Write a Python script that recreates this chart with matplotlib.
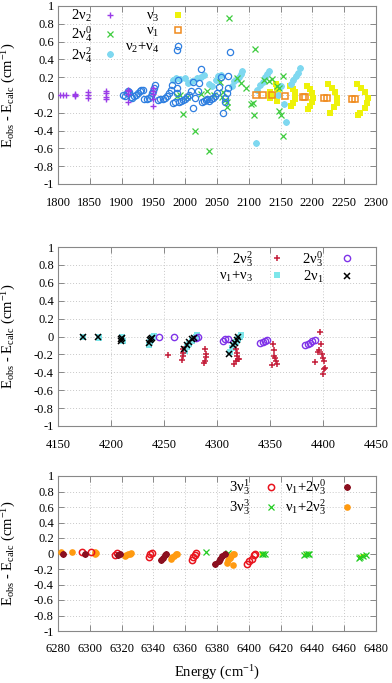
import matplotlib
matplotlib.use("Agg")
import matplotlib.pyplot as plt
from matplotlib.ticker import MultipleLocator, FuncFormatter

plt.rcParams['font.family'] = ['Liberation Serif', 'DejaVu Serif']
plt.rcParams['mathtext.fontset'] = 'custom'
plt.rcParams['mathtext.rm'] = 'Liberation Serif'
plt.rcParams['mathtext.it'] = 'Liberation Serif:italic'
plt.rcParams['axes.unicode_minus'] = False

# ---- panel 1: 1800-2300 cm-1 ----
e_2v2 = [1803, 1808, 1813, 1826, 1826, 1826, 1847, 1847, 1847, 1875, 1875, 1875, 1875,
         1910, 1910, 1910, 1910, 1950, 1950, 1950, 1950, 1950]
d_2v2 = [0, 0, 0, 0.01, 0, -0.01, 0.03, 0, -0.03, 0.05, 0.02, -0.02, -0.05,
         0.06, 0.04, 0.01, -0.08, 0.08, 0.05, 0.01, -0.05, -0.12]

e_2v4_0 = [1987, 1992, 1997, 2003, 2015, 2025, 2034, 2038, 2045, 2055, 2058, 2060, 2063, 2065, 2066,
           2069, 2081, 2088, 2096, 2104, 2107, 2108, 2110, 2124, 2132, 2136, 2144, 2148, 2150,
           2153, 2154, 2148]
d_2v4_0 = [-0.01, 0.0, -0.21, -0.02, -0.41, 0.01, 0.04, -0.63, 0.0, 0.15, -0.02, 0.03, -0.06, -0.08, -0.13,
           0.87, 0.19, 0.13, 0.08, -0.1, -0.09, -0.23, 0.52, 0.17, 0.16, 0.18, 0.1, -0.18, -0.22,
           -0.46, 0.21, 0.08]

e_2v4_2 = [1981, 1986, 1992, 1999, 2004, 2011, 2018, 2025, 2030, 2037, 2042, 2048, 2052, 2057,
           2074, 2077, 2081, 2085, 2088, 2090, 2111, 2113, 2118, 2122, 2126, 2129, 2132,
           2146, 2150, 2156, 2158, 2166, 2170, 2174, 2178, 2181]
d_2v4_2 = [0.17, 0.19, 0.18, 0.19, 0.14, 0.16, 0.19, 0.2, 0.22, 0.12, 0.1, 0.17, 0.21, 0.22,
           0.1, 0.16, 0.18, 0.2, 0.24, 0.27, -0.54, 0.06, 0.11, 0.15, 0.2, 0.24, 0.27,
           0.0, 0.1, -0.1, -0.3, 0.12, 0.17, 0.21, 0.25, 0.3]

e_v3 = [2134, 2135, 2134,
        2143, 2145, 2146, 2146, 2145, 2144,
        2165, 2169, 2172, 2173, 2172, 2169, 2166,
        2191, 2196, 2200, 2201, 2200, 2197, 2193,
        2225, 2231, 2236, 2239, 2238, 2234, 2228,
        2270, 2277, 2283, 2287, 2286, 2282, 2275, 2271]
d_v3 = [0.03, 0.0, -0.03,
        0.12, 0.08, 0.04, 0.0, -0.04, -0.07,
        0.1, 0.07, 0.03, -0.01, -0.05, -0.09, -0.12,
        0.1, 0.07, 0.02, -0.03, -0.08, -0.12, -0.16,
        0.12, 0.08, 0.03, -0.03, -0.09, -0.14, -0.2,
        0.12, 0.08, 0.03, -0.03, -0.09, -0.15, -0.2, -0.22]

e_v1 = [2112, 2122, 2136, 2157, 2186, 2189, 2219, 2223, 2262, 2267]
d_v1 = [0.0, 0.0, 0.0, -0.01, -0.02, -0.02, -0.03, -0.03, -0.05, -0.04]

e_v2v4 = [1902, 1905, 1908, 1910, 1912, 1914, 1917, 1920, 1923, 1926, 1929, 1931, 1934,
          1936, 1940, 1943, 1946, 1948, 1950, 1951, 1953,
          1957, 1961, 1965, 1968, 1972, 1975, 1977, 1979,
          1981, 1984, 1987, 1987, 1989, 1990, 1994, 1997, 2000, 2003, 2006, 2009, 2012,
          2013, 2016, 2020, 2022, 2025, 2026, 2029, 2032, 2035, 2038, 2041, 2044, 2047, 2050,
          2053, 2056, 2060, 2062, 2063, 2065, 2067, 2068, 2071, 1987]
d_v2v4 = [0.0, -0.01, 0.02, 0.04, 0.03, -0.02, -0.03, -0.01, 0.0, 0.02, 0.05, 0.06, 0.06,
          -0.05, -0.04, -0.03, -0.01, 0.02, 0.05, 0.08, 0.11,
          -0.06, -0.05, -0.04, -0.03, -0.01, 0.02, 0.06, 0.11,
          -0.09, -0.08, 0.02, 0.08, 0.17, -0.08, -0.07, -0.06, -0.04, -0.02, 0.0, 0.05, 0.15,
          -0.15, -0.03, 0.05, 0.13, 0.29, -0.08, -0.07, -0.06, -0.05, -0.07, -0.05, -0.03, -0.01, 0.02,
          0.09, 0.2, -0.2, -0.08, -0.03, 0.02, 0.08, 0.21, 0.48, 0.51]

# ---- panel 2: 4150-4450 cm-1 ----
e_2v3_2 = [4254, 4268, 4268, 4268, 4267, 4289, 4290, 4290, 4289, 4288,
           4318, 4319, 4319, 4320, 4318, 4316, 4321,
           4353, 4354, 4354, 4355, 4356, 4357, 4352,
           4397, 4398, 4396, 4395, 4399, 4400, 4401, 4401, 4400, 4392, 4402]
d_2v3_2 = [-0.21, -0.14, -0.18, -0.22, -0.26, -0.14, -0.2, -0.23, -0.27, -0.3,
           -0.14, -0.18, -0.22, -0.25, -0.27, -0.31, -0.25,
           -0.08, -0.15, -0.22, -0.24, -0.27, -0.31, -0.32,
           0.05, -0.08, -0.15, -0.17, -0.2, -0.24, -0.27, -0.36, -0.42, -0.29, -0.35]

e_2v3_0 = [4245, 4259, 4280, 4282, 4306, 4308, 4310, 4341, 4343, 4345, 4347,
           4383, 4386, 4388, 4390, 4392]
d_2v3_0 = [0.0, -0.01, -0.02, -0.01, -0.05, -0.03, -0.03, -0.07, -0.06, -0.05, -0.04,
           -0.09, -0.08, -0.07, -0.05, -0.04]

e_v1v3 = [4174, 4174, 4189, 4189, 4210, 4210, 4211, 4236, 4237, 4238, 4240, 4241,
          4270, 4272, 4274, 4276, 4278, 4280, 4281, 4312, 4314, 4316, 4318, 4320, 4322, 4323]
d_v1v3 = [0.0, -0.01, 0.0, -0.02, 0.0, -0.03, -0.05, -0.09, -0.06, -0.04, -0.01, 0.01,
          -0.16, -0.12, -0.08, -0.05, -0.02, 0.0, 0.02, -0.17, -0.13, -0.09, -0.06, -0.03, 0.0, 0.02]

e_2v1 = [4174, 4188, 4209, 4210, 4209, 4236, 4237, 4238, 4239,
         4269, 4272, 4274, 4276, 4278, 4311, 4315, 4317, 4319, 4320]
d_2v1 = [0.0, -0.01, -0.03, -0.02, -0.05, -0.07, -0.04, -0.03, -0.02,
         -0.14, -0.1, -0.06, -0.03, -0.02, -0.19, -0.1, -0.07, -0.04, -0.01]

# ---- panel 3: 6280-6480 cm-1 ----
e_3v3_1 = [6295, 6301, 6316, 6317, 6337, 6338, 6339, 6364, 6365, 6366, 6367,
           6399, 6400, 6402, 6403, 6404]
d_3v3_1 = [0.02, 0.02, -0.02, 0.01, -0.05, -0.01, 0.01, -0.08, -0.05, -0.02, 0.01,
           -0.13, -0.1, -0.07, -0.02, 0.0]

e_3v3_3 = [6373, 6387, 6408, 6409, 6410, 6435, 6436, 6437, 6438, 6469, 6470, 6472, 6474]
d_3v3_3 = [0.02, 0.01, 0.0, 0.0, -0.01, -0.02, -0.01, -0.01, -0.01, -0.06, -0.05, -0.03, -0.02]

e_hidden = [6408, 6409, 6436, 6437, 6470, 6472]
d_hidden = [-0.01, 0.0, -0.02, -0.01, -0.05, -0.03]

e_v12v3_0 = [6283, 6297, 6318, 6319, 6345, 6346, 6347, 6348, 6379, 6381, 6382, 6383, 6385]
d_v12v3_0 = [-0.01, -0.01, -0.02, 0.0, -0.09, -0.06, -0.02, 0.0, -0.13, -0.1, -0.07, -0.03, 0.0]

e_v12v3_2 = [6282, 6289, 6303, 6304, 6303, 6322, 6323, 6324, 6325, 6326,
             6351, 6352, 6353, 6354, 6355, 6386, 6387, 6388, 6389, 6390, 6391, 6390]
d_v12v3_2 = [0.02, 0.02, -0.01, 0.01, 0.02, -0.03, -0.02, -0.01, 0.0, 0.01,
             -0.07, -0.05, -0.03, -0.01, 0.0, -0.12, -0.09, -0.06, -0.03, -0.01, 0.0, -0.15]

ylab = r'E$_{\rm obs}$ - E$_{\rm calc}$ (cm$^{-1}$)'
aster = (8, 2, 0)

fig = plt.figure(figsize=(3.92, 6.83), dpi=100)
W, H = 392.0, 683.0
AX_L, AX_R = 58, 376


def make_axes(top, bottom, xlim, xstep):
    ax = fig.add_axes([AX_L / W, 1 - bottom / H, (AX_R - AX_L) / W, (bottom - top) / H])
    ax.set_xlim(*xlim)
    ax.set_ylim(-1, 1)
    ax.xaxis.set_major_locator(MultipleLocator(xstep))
    ax.yaxis.set_major_locator(MultipleLocator(0.2))
    ax.yaxis.set_major_formatter(FuncFormatter(lambda v, p: '%g' % round(v, 1)))
    ax.grid(True, color='#c8c8c8', linestyle=(0, (1, 2)), linewidth=0.7)
    ax.set_axisbelow(True)
    ax.tick_params(direction='in', top=True, right=True, length=4, width=0.6,
                   color='#777777', labelsize=9)
    ax.tick_params(axis='x', pad=9)
    ax.tick_params(axis='y', pad=3)
    for s in ax.spines.values():
        s.set_color('#888888')
        s.set_linewidth(0.8)
    ax.set_ylabel(ylab, fontsize=10.5)
    ax.yaxis.set_label_coords(-0.125, 0.5)
    return ax


leg_kw = dict(ncol=2, frameon=False, markerfirst=False, fontsize=10.5, handlelength=0.9,
              borderpad=0.0, borderaxespad=0.0)

# panel 1
ax1 = make_axes(6, 184, (1800, 2300), 50)
h_v3, = ax1.plot(e_v3, d_v3, 's', color='#eef20a', ms=4.5, mew=0, zorder=2, label=r'$\mathrm{\nu}_3$')
h_2v4_2, = ax1.plot(e_2v4_2, d_2v4_2, ls='none', marker=aster, color='#7fd8f0', ms=4.5, mew=1.4,
                    zorder=3, label=r'2$\mathrm{\nu}_4^2$')
h_2v4_0, = ax1.plot(e_2v4_0, d_2v4_0, 'x', color='#3fcc3f', ms=4, mew=0.9, zorder=4,
                    label=r'2$\mathrm{\nu}_4^0$')
h_v2v4, = ax1.plot(e_v2v4, d_v2v4, 'o', mfc='none', mec='#2f7fe0', ms=4.5, mew=0.9, zorder=5,
                   label=r'$\mathrm{\nu}_2$+$\mathrm{\nu}_4$')
h_v1, = ax1.plot(e_v1, d_v1, 's', mfc='none', mec='#f08a1c', ms=4.2, mew=1.1, zorder=6,
                 label=r'$\mathrm{\nu}_1$')
h_2v2, = ax1.plot(e_2v2, d_2v2, '+', color='#9a3ce8', ms=4.5, mew=1.0, zorder=7,
                  label=r'2$\mathrm{\nu}_2$')
ax1.legend(handles=[h_2v2, h_2v4_0, h_2v4_2, h_v3, h_v1, h_v2v4], loc='upper left',
           bbox_to_anchor=(0.04, 0.99), handletextpad=0.8, columnspacing=0.6,
           labelspacing=0.05, **leg_kw)

# panel 2
ax2 = make_axes(247, 426, (4150, 4450), 50)
h_v1v3, = ax2.plot(e_v1v3, d_v1v3, 's', color='#7de6ea', ms=4.5, mew=0, zorder=2,
                   label=r'$\mathrm{\nu}_1$+$\mathrm{\nu}_3$')
h_2v3_2, = ax2.plot(e_2v3_2, d_2v3_2, '+', color='#c41e3a', ms=4.5, mew=1.1, zorder=3,
                    label=r'2$\mathrm{\nu}_3^2$')
h_2v3_0, = ax2.plot(e_2v3_0, d_2v3_0, 'o', mfc='none', mec='#7f33e8', ms=4.5, mew=1.0, zorder=4,
                    label=r'2$\mathrm{\nu}_3^0$')
h_2v1, = ax2.plot(e_2v1, d_2v1, 'x', color='black', ms=4, mew=1.1, zorder=5,
                  label=r'2$\mathrm{\nu}_1$')
ax2.legend(handles=[h_2v3_2, h_v1v3, h_2v3_0, h_2v1], loc='upper right',
           bbox_to_anchor=(0.93, 0.99), handletextpad=1.2, columnspacing=1.3,
           labelspacing=0.05, **leg_kw)

# panel 3
ax3 = make_axes(476, 631, (6280, 6480), 20)
ax3.plot(e_hidden, d_hidden, 's', color='#eef20a', ms=3.5, mew=0, zorder=2)
h_3v3_3, = ax3.plot(e_3v3_3, d_3v3_3, 'x', color='#22cc22', ms=4, mew=0.9, zorder=3,
                    label=r'3$\mathrm{\nu}_3^3$')
h_v12v3_2, = ax3.plot(e_v12v3_2, d_v12v3_2, 'o', color='#ff9a10', ms=4.8, mew=0, zorder=4,
                      label=r'$\mathrm{\nu}_1$+2$\mathrm{\nu}_3^2$')
h_3v3_1, = ax3.plot(e_3v3_1, d_3v3_1, 'o', mfc='none', mec='#e8141e', ms=4.5, mew=1.1, zorder=5,
                    label=r'3$\mathrm{\nu}_3^1$')
h_v12v3_0, = ax3.plot(e_v12v3_0, d_v12v3_0, ls='none', marker=aster, color='#8b1020', ms=4.5,
                      mew=1.4, zorder=6, label=r'$\mathrm{\nu}_1$+2$\mathrm{\nu}_3^0$')
ax3.legend(handles=[h_3v3_1, h_3v3_3, h_v12v3_0, h_v12v3_2], loc='upper right',
           bbox_to_anchor=(0.93, 0.99), handletextpad=1.0, columnspacing=0.5,
           labelspacing=0.0, **leg_kw)
ax3.set_xlabel(r'Energy (cm$^{-1}$)', fontsize=10.5)
ax3.xaxis.set_label_coords(0.5, -0.21)

fig.savefig('out.png', dpi=100)
